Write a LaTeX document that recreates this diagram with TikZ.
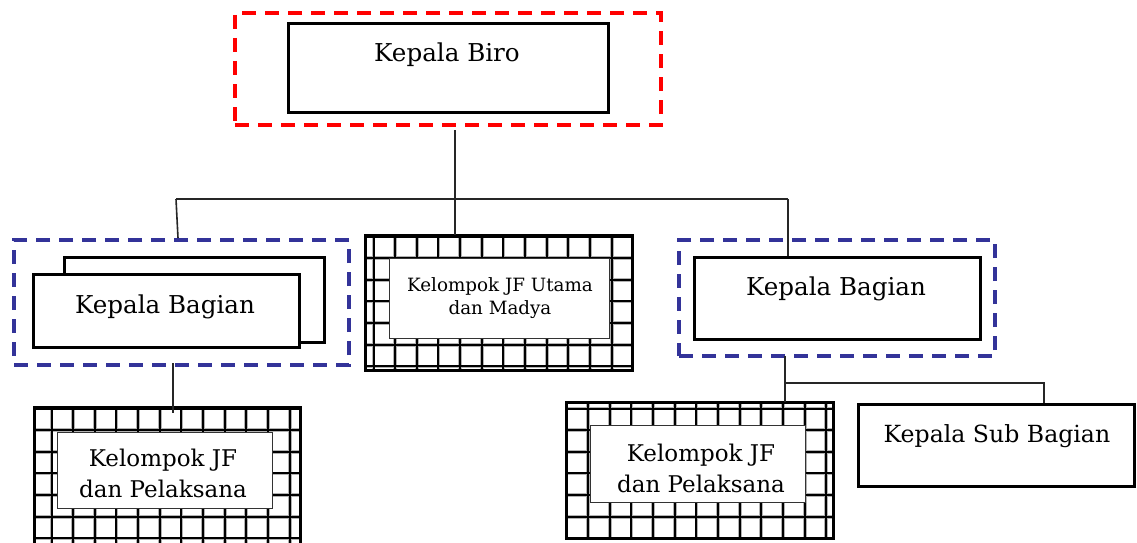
\documentclass[tikz,border=0pt]{standalone}
\usepackage{fontspec}
\setmainfont{DejaVu Serif}
\definecolor{bluedash}{RGB}{51,51,153}
\newcommand{\gridbox}[7]{%
  \node[gridbg, minimum width={#4-#2}, minimum height={#5-#3}] (#1) at (#2,#3) {};
  \begin{scope}
    \clip (#2,#3) rectangle (#4,#5);
    \foreach \k in {0,...,13} {\draw[gridhalo] ({#6+\k*21.65},#3) -- ({#6+\k*21.65},#5);}
    \foreach \k in {0,...,7} {\draw[gridhalo] (#2,{#7+\k*21.65}) -- (#4,{#7+\k*21.65});}
    \foreach \k in {0,...,13} {\draw[gridline] ({#6+\k*21.65},#3) -- ({#6+\k*21.65},#5);}
    \foreach \k in {0,...,7} {\draw[gridline] (#2,{#7+\k*21.65}) -- (#4,{#7+\k*21.65});}
  \end{scope}
  \draw[gridframe] (#2,#3) rectangle (#4,#5);
}
\begin{document}
\begin{tikzpicture}[x=1pt,y=-1pt,
  box/.style={draw=black, line width=3pt, fill=white, inner sep=0pt, anchor=north west},
  redframe/.style={draw=red, line width=4pt, dash pattern=on 14pt off 9pt, inner sep=0pt, anchor=north west},
  blueframe/.style={draw=bluedash, line width=4pt, dash pattern=on 14pt off 9pt, inner sep=0pt, anchor=north west},
  inbox/.style={draw=black!80, line width=1.4pt, fill=white, inner sep=0pt, anchor=north west},
  gridbg/.style={fill=white, inner sep=0pt, anchor=north west},
  gridhalo/.style={draw=black!30, line width=3.8pt},
  gridline/.style={draw=black, line width=2pt},
  gridframe/.style={draw=black, line width=3pt},
  conn/.style={draw=black!85, line width=1.6pt},
  big/.style={font=\fontsize{24.6}{29}\selectfont, anchor=base, inner sep=0pt},
  mid/.style={font=\fontsize{23}{31}\selectfont, anchor=base, align=center, inner sep=0pt},
  small/.style={font=\fontsize{18.3}{23}\selectfont, anchor=base, align=center, inner sep=0pt}]
\useasboundingbox (0,0) rectangle (1137,543);
\fill[white] (0,0) rectangle (1137,543);

% top
\node[redframe, minimum width=426pt, minimum height=112pt] (biroframe) at (233,11) {};
\node[box, minimum width=320pt, minimum height=89pt] (biro) at (287,22) {};
\node[big] (birot) at (447,61) {Kepala Biro};

% left Kepala Bagian
\node[blueframe, minimum width=335pt, minimum height=125pt] (lframe) at (12,238) {};
\node[box, minimum width=260pt, minimum height=85pt] (lback) at (63,256) {};
\node[box, minimum width=266pt, minimum height=73pt] (lbox) at (32,273) {};
\node[big] (lboxt) at (165,313) {Kepala Bagian};

% right Kepala Bagian
\node[blueframe, minimum width=316pt, minimum height=116pt] (rframe) at (677,238) {};
\node[box, minimum width=286pt, minimum height=82pt] (rbox) at (693,256) {};
\node[big] (rboxt) at (836,295) {Kepala Bagian};

% grids
\gridbox{mgrid}{365}{235}{632}{370}{373.5}{236.5}
\node[inbox, minimum width=220pt, minimum height=80pt] (mgin) at (389,258) {};
\node[small] (mgt) at (500,314) {Kelompok JF Utama\\dan Madya};

\gridbox{lgrid}{34}{407}{300}{545}{51.5}{408.5}
\node[inbox, minimum width=215pt, minimum height=76pt] (lgin) at (57,432) {};
\node[mid] (lgt) at (163,497) {Kelompok JF\\dan Pelaksana};

\gridbox{rgrid}{566}{402}{833}{538}{566.5}{408.5}
\node[inbox, minimum width=215pt, minimum height=77pt] (rgin) at (590,425) {};
\node[mid] (rgt) at (701,492) {Kelompok JF\\dan Pelaksana};

% sub bagian
\node[box, minimum width=276pt, minimum height=82pt] (sub) at (857,403) {};
\node[big, font=\fontsize{23.6}{28}\selectfont] (subt) at (997,442) {Kepala Sub Bagian};

% connectors
\coordinate (j0) at (455,199);
\coordinate (jl) at (176,199);
\coordinate (jr) at (788,199);
\coordinate (jl2) at (178,199);
\draw[conn] ([yshift=-3pt]biroframe.south -| j0) -- (mgrid.north -| j0);
\draw[conn] (jl) -- (jr);
\draw[conn] (jl) -- (jl2 |- lframe.north);
\draw[conn] (jr) -- (jr |- rbox.north);
\coordinate (l0) at (173,363);
\draw[conn] (l0) -- ([yshift=-6pt]lgrid.north -| l0);
\coordinate (k0) at (785,383);
\coordinate (k1) at (1044,383);
\draw[conn] ([yshift=2pt]rframe.south -| k0) -- (rgrid.north -| k0);
\draw[conn] ([xshift=1pt]k0) -- (k1) -- (k1 |- sub.north);
\end{tikzpicture}
\end{document}
